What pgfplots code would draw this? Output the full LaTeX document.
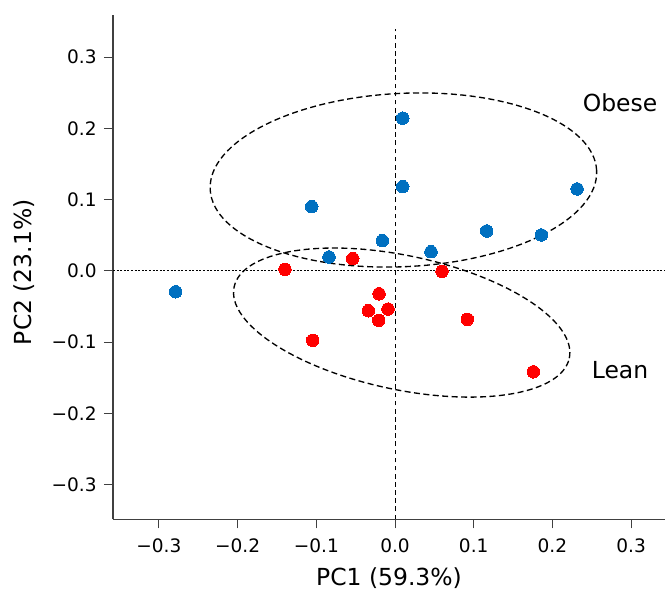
\documentclass[border=0pt]{standalone}
\usepackage{pgfplots}
\pgfplotsset{compat=1.18}
\usepackage{fontspec}
\setmainfont{DejaVu Sans}
\definecolor{obeseblue}{HTML}{0070C0}
\definecolor{leanred}{HTML}{FF0000}
\definecolor{axisgray}{HTML}{404040}

\pgfplotstableread{
x y
0.0098 0.2142
0.0098 0.1181
-0.0161 0.0423
0.0457 0.0268
0.1165 0.0559
0.1859 0.0503
0.2313 0.1149
-0.1058 0.0900
-0.0839 0.0194
-0.2787 -0.0294
}\obese

\pgfplotstableread{
x y
-0.0537 0.0170
0.0597 -0.0007
-0.0203 -0.0322
-0.0339 -0.0560
-0.0089 -0.0537
-0.0207 -0.0695
0.0919 -0.0681
0.1757 -0.1417
-0.1398 0.0021
-0.1046 -0.0976
}\lean

\begin{document}
\begin{tikzpicture}
\begin{axis}[
  name=ax,
  scale only axis,
  width=414pt, height=378.2pt,
  xmin=-0.3583, xmax=0.343,
  ymin=-0.3486, ymax=0.359,
  axis x line*=bottom, axis y line*=left,
  axis line style={draw=axisgray, line width=1pt, -},
  tick align=outside,
  major tick length=6.75pt,
  tick style={draw=axisgray, line width=0.7pt},
  xtick={-0.3,-0.2,-0.1,0,0.1,0.2,0.3},
  ytick={-0.3,-0.2,-0.1,0,0.1,0.2,0.3},
  xticklabels={−0.3,−0.2,−0.1,0.0,0.1,0.2,0.3},
  yticklabels={−0.3,−0.2,−0.1,0.0,0.1,0.2,0.3},
  ticklabel style={font=\fontsize{13.9}{16}\selectfont},
  xticklabel style={yshift=-4.5pt},
  yticklabel style={xshift=-2pt},
  xlabel={PC1 (59.3\%)},
  ylabel={PC2 (23.1\%)},
  label style={font=\fontsize{17.6}{20}\selectfont},
  xlabel style={at={([yshift=-44.25pt]axis description cs:0.5,0)}, anchor=center},
  ylabel style={at={([xshift=-66.75pt]axis description cs:0,0.49)}, anchor=center},
  clip=false,
]
% zero lines
\draw[black, line width=0.6pt, dash pattern=on 3.5pt off 2.6pt]
  (axis cs:0,-0.3486) -- (axis cs:0,0.34);
\draw[black, line width=0.7pt, dash pattern=on 1.5pt off 1.2pt]
  (axis cs:-0.3583,0) -- (axis cs:0.343,0);
% confidence ellipses
\coordinate (oc) at (axis cs:0.0107,0.1275);
\coordinate (lc) at (axis cs:0.0085,-0.0726);
\draw[black, line width=1pt, dash pattern=on 4.5pt off 2.6pt, rotate around={2.8:(oc)}]
  (oc) ellipse [x radius=145.1pt, y radius=65pt];
\draw[black, line width=1pt, dash pattern=on 4.5pt off 2.6pt, rotate around={-12:(lc)}]
  (lc) ellipse [x radius=128.5pt, y radius=50.2pt];
% points
\addplot[only marks, mark=*, mark size=4.7pt, color=obeseblue, mark options={fill=obeseblue, draw=obeseblue, line width=0pt}] table {\obese};
\addplot[only marks, mark=*, mark size=4.7pt, color=leanred, mark options={fill=leanred, draw=leanred, line width=0pt}] table {\lean};
% group labels
\node[font=\fontsize{17.6}{20}\selectfont] at (axis cs:0.2859,0.2357) {Obese};
\node[font=\fontsize{17.6}{20}\selectfont] at (axis cs:0.2859,-0.1393) {Lean};
\end{axis}
\pgfresetboundingbox
\path ([shift={(-84.75pt,-54.5pt)}]ax.south west) rectangle ([shift={(0pt,11.25pt)}]ax.north east);
\end{tikzpicture}
\end{document}
